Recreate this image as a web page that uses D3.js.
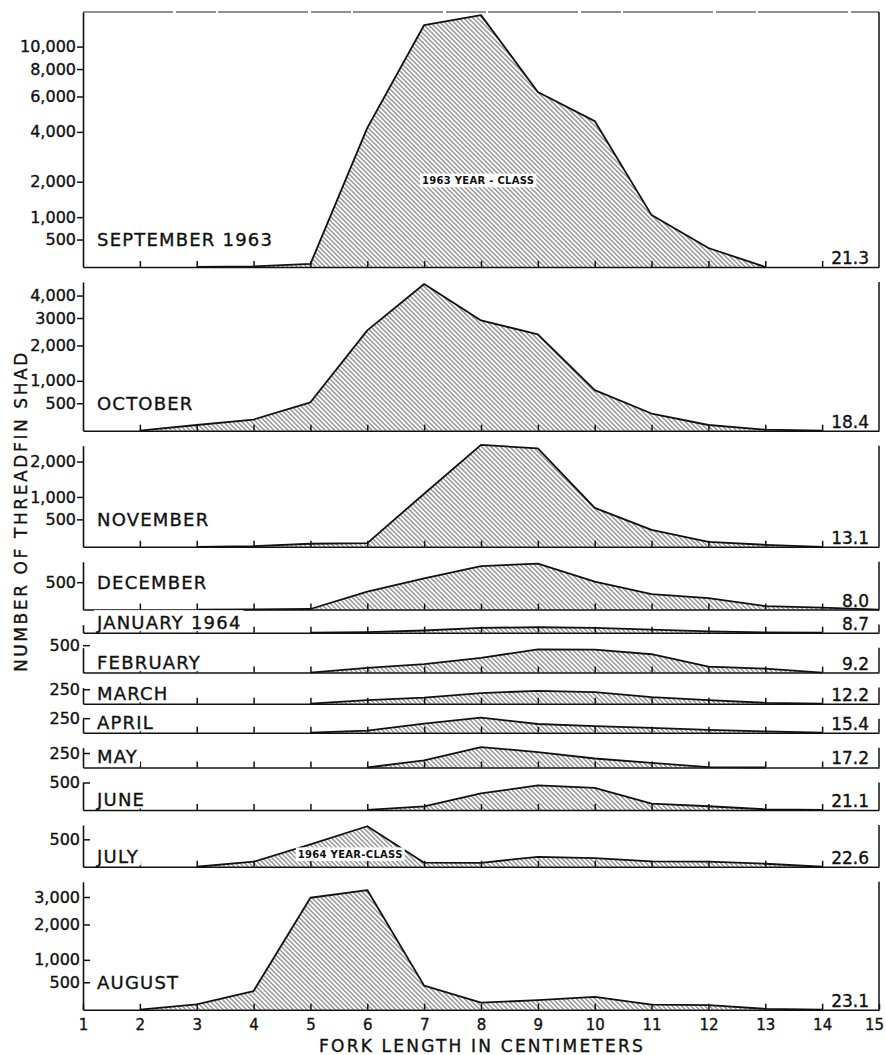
<!DOCTYPE html>
<html><head><meta charset="utf-8">
<script src="https://cdn.jsdelivr.net/npm/d3@7"></script>
<style>
html,body{margin:0;padding:0;background:#fff;}
svg{display:block;}
text{font-family:"DejaVu Sans",sans-serif;fill:#111;}
.thick{stroke:#111;stroke-width:0.35px;}
</style></head><body>
<svg id="chart" width="886" height="1055"></svg>
<script>
// ---------- DATA ----------
const lengthsCm = [1,2,3,4,5,6,7,8,9,10,11,12,13,14,15];
const xTickLabels = ["1","2","3","4","5","6","7","8","9","10","11","12","13","14","15"];
const months = ["SEPTEMBER 1963","OCTOBER","NOVEMBER","DECEMBER","JANUARY 1964","FEBRUARY",
                "MARCH","APRIL","MAY","JUNE","JULY","AUGUST"];
const temperatures = ["21.3","18.4","13.1","8.0","8.7","9.2","12.2","15.4","17.2","21.1","22.6","23.1"];

const countsSep = [0,0,0,10,50,4200,12300,13500,6300,4550,1050,334,0,0,0];
const countsOct = [0,0,95,190,520,2520,4590,2900,2380,780,300,95,16,0,0];
const countsNov = [0,0,0,10,50,60,1080,2580,2450,746,296,83,33,0,0];
const countsDec = [0,0,0,5,10,316,580,850,907,511,268,196,58,33,0];
const countsJan = [0,0,0,0,0,10,35,80,90,80,50,20,5,0,0];
const countsFeb = [0,0,0,0,0,80,144,256,416,411,322,100,66,0,0];
const countsMar = [0,0,0,0,0,58,100,180,222,196,110,61,15,0,0];
const countsApr = [0,0,0,0,0,33,152,260,146,108,78,45,20,0,0];
const countsMay = [0,0,0,0,0,0,120,360,268,152,76,5,0,0,0];
const countsJun = [0,0,0,0,0,0,60,290,441,392,105,61,10,0,0];
const countsJul = [0,0,0,84,400,780,67,66,169,144,91,84,50,0,0];
const countsAug = [0,0,89,328,2970,3290,433,118,161,222,84,75,15,0,0];

const panelMax = [13900,4700,2550,950,135,450,280,240,350,500,810,3660];

const yTickValues = [[500,1000,2000,4000,6000,8000,10000],[500,1000,2000,3000,4000],[500,1000,2000],[500],[],
                     [500],[250],[250],[250],[500],[500],[500,1000,2000,3000]];
const yTickLabels = [["500","1,000","2,000","4,000","6,000","8,000","10,000"],["500","1,000","2,000","3000","4,000"],
                     ["500","1,000","2,000"],["500"],[],["500"],["250"],["250"],["250"],["500"],["500"],
                     ["500","1,000","2,000","3,000"]];

const yearClassPanels = [0, 10];
const yearClassTexts = ["1963 YEAR - CLASS", "1964 YEAR-CLASS"];
const yearClassCm = [7.95, 5.7];
const yearClassCount = [2050, 220];

const allCounts = [countsSep,countsOct,countsNov,countsDec,countsJan,countsFeb,
                   countsMar,countsApr,countsMay,countsJun,countsJul,countsAug];

// ---------- DRAW ----------
const svg = d3.select("#chart");
const defs = svg.append("defs");
const pat = defs.append("pattern").attr("id","hatch").attr("patternUnits","userSpaceOnUse")
  .attr("width",3.3).attr("height",3.3).attr("patternTransform","rotate(-45)");
pat.append("line").attr("x1",1.6).attr("y1",-1).attr("x2",1.6).attr("y2",5)
  .attr("stroke","#3a3a3a").attr("stroke-width",0.8);

const x = d3.scaleLinear().domain([1,15]).range([83,879]);
const SYM_C = 2000, PX_PER_LN = 123, GAP = 15;
let panelTop = 12;

function labelWithBg(g, textSel, bottomLimit) {
  const bb = textSel.node().getBBox();
  const y0 = bb.y - 1.5;
  let y1 = bb.y + bb.height + 1;
  if (bottomLimit !== undefined) y1 = Math.min(y1, bottomLimit);
  g.insert("rect", () => textSel.node())
    .attr("x", bb.x - 2).attr("y", y0).attr("width", bb.width + 4).attr("height", Math.max(0, y1 - y0))
    .attr("fill", "#fff");
}

allCounts.forEach((counts, i) => {
  const maxV = panelMax[i];
  const h = PX_PER_LN * Math.log1p(maxV / SYM_C);
  const base = panelTop + h;
  const y = d3.scaleSymlog().constant(SYM_C).domain([0, maxV]).range([base, panelTop]);
  const g = svg.append("g").attr("class","panel");
  const pts = lengthsCm.map((cm, j) => ({cm, v: counts[j]}));

  g.append("path").datum(pts)
    .attr("d", d3.area().x(d => x(d.cm)).y0(base).y1(d => y(d.v)))
    .attr("fill","url(#hatch)");

  let first = counts.findIndex(v => v > 0), last = counts.length - 1 - [...counts].reverse().findIndex(v => v > 0);
  first = Math.max(0, first - 1); last = Math.min(counts.length - 1, last + 1);
  g.append("path").datum(pts.slice(first, last + 1))
    .attr("d", d3.line().x(d => x(d.cm)).y(d => y(d.v)))
    .attr("fill","none").attr("stroke","#111").attr("stroke-width",1.8).attr("stroke-linejoin","round");

  const isLast = i === allCounts.length - 1;
  const xAxis = d3.axisBottom(x).tickSizeOuter(0).tickSizeInner(-6);
  if (isLast) xAxis.tickValues(lengthsCm).tickFormat((d, j) => xTickLabels[j]).tickPadding(10);
  else xAxis.tickValues(lengthsCm.slice(1, 14)).tickFormat("");
  const gx = g.append("g").attr("transform", `translate(0,${base})`).call(xAxis);
  gx.select(".domain").attr("stroke","#111").attr("stroke-width",1.5);
  gx.selectAll(".tick line").attr("stroke","#111").attr("stroke-width",1.5);
  gx.selectAll(".tick text").attr("font-size",15).attr("font-family","DejaVu Sans").attr("fill","#111")
    .attr("class","thick");
  if (isLast) gx.selectAll(".tick text").filter(d => d === 15).attr("dx", -5);

  const inward = i >= 4;
  const yAxis = d3.axisLeft(y).tickValues(yTickValues[i]).tickFormat((d, j) => yTickLabels[i][j])
    .tickSizeOuter(0).tickSizeInner(inward ? -7 : 6).tickPadding(inward ? 3 : 1);
  const gy = g.append("g").attr("transform", `translate(${x(1)},0)`).call(yAxis);
  gy.select(".domain").attr("stroke","#111").attr("stroke-width",1.6);
  gy.selectAll(".tick line").attr("stroke","#111").attr("stroke-width",1.5);
  gy.selectAll(".tick text").attr("font-size",16).attr("font-family","DejaVu Sans").attr("fill","#111")
    .attr("class","thick");

  g.append("line").attr("x1", x(15)).attr("x2", x(15)).attr("y1", panelTop).attr("y2", base)
    .attr("stroke","#111").attr("stroke-width",1.5);
  if (i === 0) {
    g.append("line").attr("x1", x(1)).attr("x2", x(15)).attr("y1", panelTop).attr("y2", panelTop)
      .attr("stroke","#222").attr("stroke-width",1.2).attr("stroke-dasharray","90 3 40 2");
  }

  const big = maxV >= 900;
  const ly = big ? y(500) + 6.5 : base - 4;
  const mt = g.append("text").attr("x", x(1) + 14).attr("y", ly).attr("class","thick")
    .attr("font-size",18).attr("letter-spacing",1.2).text(months[i]);
  labelWithBg(g, mt, base - 1.5);

  g.append("text").attr("x", x(15) - 10).attr("y", base - 3).attr("text-anchor","end").attr("class","thick")
    .attr("font-size",17).text(temperatures[i]);

  yearClassPanels.forEach((p, k) => {
    if (p !== i) return;
    const t = g.append("text").attr("x", x(yearClassCm[k])).attr("y", y(yearClassCount[k]) + 4)
      .attr("text-anchor","middle").attr("font-size",10).attr("font-weight","bold")
      .attr("letter-spacing",0.3).text(yearClassTexts[k]);
    labelWithBg(g, t);
  });

  panelTop = base + GAP;
});

svg.append("text").attr("transform","translate(27,511) rotate(-90)").attr("text-anchor","middle")
  .attr("class","thick").attr("font-size",17).attr("letter-spacing",2.6).text("NUMBER OF THREADFIN SHAD");
svg.append("text").attr("x",482).attr("y",1052).attr("text-anchor","middle")
  .attr("class","thick").attr("font-size",17).attr("letter-spacing",2.2).text("FORK LENGTH IN CENTIMETERS");
</script>
</body></html>
